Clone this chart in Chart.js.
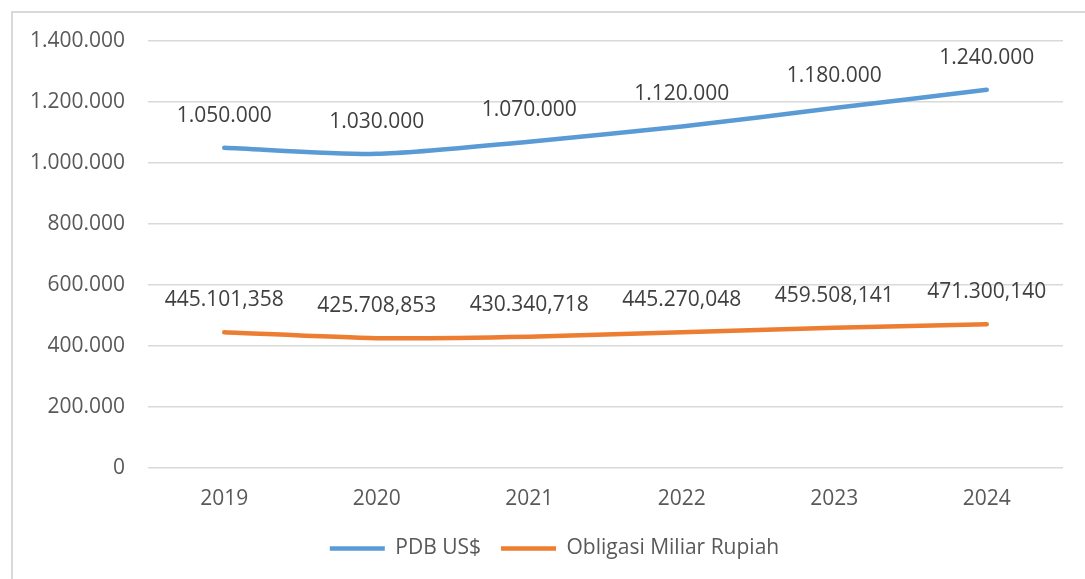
<!DOCTYPE html>
<html>
<head>
<meta charset="utf-8">
<script src="https://cdn.jsdelivr.net/npm/chart.js@4.4.1/dist/chart.umd.min.js"></script>
<style>
  html, body { margin: 0; padding: 0; background: #fff; }
  #wrap { width: 1085px; height: 579px; position: relative; }
</style>
</head>
<body>
<div id="wrap"><canvas id="chart" width="1085" height="579"></canvas></div>
<script>
// data
const years = ['2019', '2020', '2021', '2022', '2023', '2024'];
const pdbUsd = [1050000, 1030000, 1070000, 1120000, 1180000, 1240000];
const obligasi = [445101.358, 425708.853, 430340.718, 445270.048, 459508.141, 471300.140];
const seriesNames = ['PDB US$', 'Obligasi Miliar Rupiah'];
const seriesDecimals = [0, 3];
const yTicks = [0, 200000, 400000, 600000, 800000, 1000000, 1200000, 1400000];

const FONT = "'Open Sans', 'Noto Sans', sans-serif";

// format angka gaya Indonesia: 1.234.567,890
function formatId(v, dec) {
  const fixed = v.toFixed(dec);
  const parts = fixed.split('.');
  const intPart = parts[0].replace(/\B(?=(\d{3})+(?!\d))/g, '.');
  return dec > 0 ? intPart + ',' + parts[1] : intPart;
}

// bingkai abu-abu di sekeliling chart
const frame = {
  id: 'frame',
  beforeDraw(chart) {
    const ctx = chart.ctx;
    ctx.save();
    ctx.strokeStyle = '#d9d9d9';
    ctx.lineWidth = 2;
    ctx.strokeRect(12, 12, 1200, 700);
    ctx.restore();
  }
};

// geser legenda sedikit ke kanan (seperti di Excel)
const legendShift = {
  id: 'legendShift',
  afterLayout(chart) {
    if (chart.legend) {
      chart.legend.left += 23;
      chart.legend.right += 23;
    }
  }
};

// label nilai di atas titik
const valueLabels = {
  id: 'valueLabels',
  afterDatasetsDraw(chart) {
    const ctx = chart.ctx;
    ctx.save();
    ctx.font = '21px ' + FONT;
    ctx.fillStyle = '#404040';
    ctx.textAlign = 'center';
    ctx.textBaseline = 'middle';
    chart.data.datasets.forEach((ds, di) => {
      const meta = chart.getDatasetMeta(di);
      meta.data.forEach((pt, i) => {
        ctx.fillText(formatId(ds.data[i], seriesDecimals[di]), pt.x, pt.y - 32);
      });
    });
    ctx.restore();
  }
};

new Chart(document.getElementById('chart'), {
  type: 'line',
  data: {
    labels: years,
    datasets: [
      {
        label: seriesNames[0],
        data: pdbUsd,
        borderColor: '#5b9bd5',
        backgroundColor: '#5b9bd5',
        borderWidth: 4.5,
        borderCapStyle: 'round',
        pointRadius: 0,
        tension: 0.25
      },
      {
        label: seriesNames[1],
        data: obligasi,
        borderColor: '#ed7d31',
        backgroundColor: '#ed7d31',
        borderWidth: 4.5,
        borderCapStyle: 'round',
        pointRadius: 0,
        tension: 0.25
      }
    ]
  },
  options: {
    responsive: false,
    animation: false,
    layout: { padding: { top: 41, right: 22, left: 0, bottom: 10 } },
    scales: {
      x: {
        offset: true,
        grid: { display: false },
        border: { display: false },
        ticks: { color: '#595959', font: { family: FONT, size: 21 }, padding: 10 },
        afterFit(scale) { scale.height = 50; }
      },
      y: {
        min: 0,
        max: 1400000,
        afterBuildTicks(scale) { scale.ticks = yTicks.map(v => ({ value: v })); },
        grid: { color: '#d9d9d9', lineWidth: 1.5, drawTicks: false },
        border: { display: false },
        ticks: {
          color: '#595959',
          font: { family: FONT, size: 21 },
          padding: 23,
          callback: v => formatId(v, 0)
        },
        afterFit(scale) { scale.width = 148; }
      }
    },
    plugins: {
      legend: {
        position: 'bottom',
        labels: {
          color: '#595959',
          font: { family: FONT, size: 21 },
          usePointStyle: true,
          pointStyle: 'line',
          pointStyleWidth: 55,
          padding: 20
        }
      },
      tooltip: { enabled: false }
    }
  },
  plugins: [frame, legendShift, valueLabels]
});
</script>
</body>
</html>
